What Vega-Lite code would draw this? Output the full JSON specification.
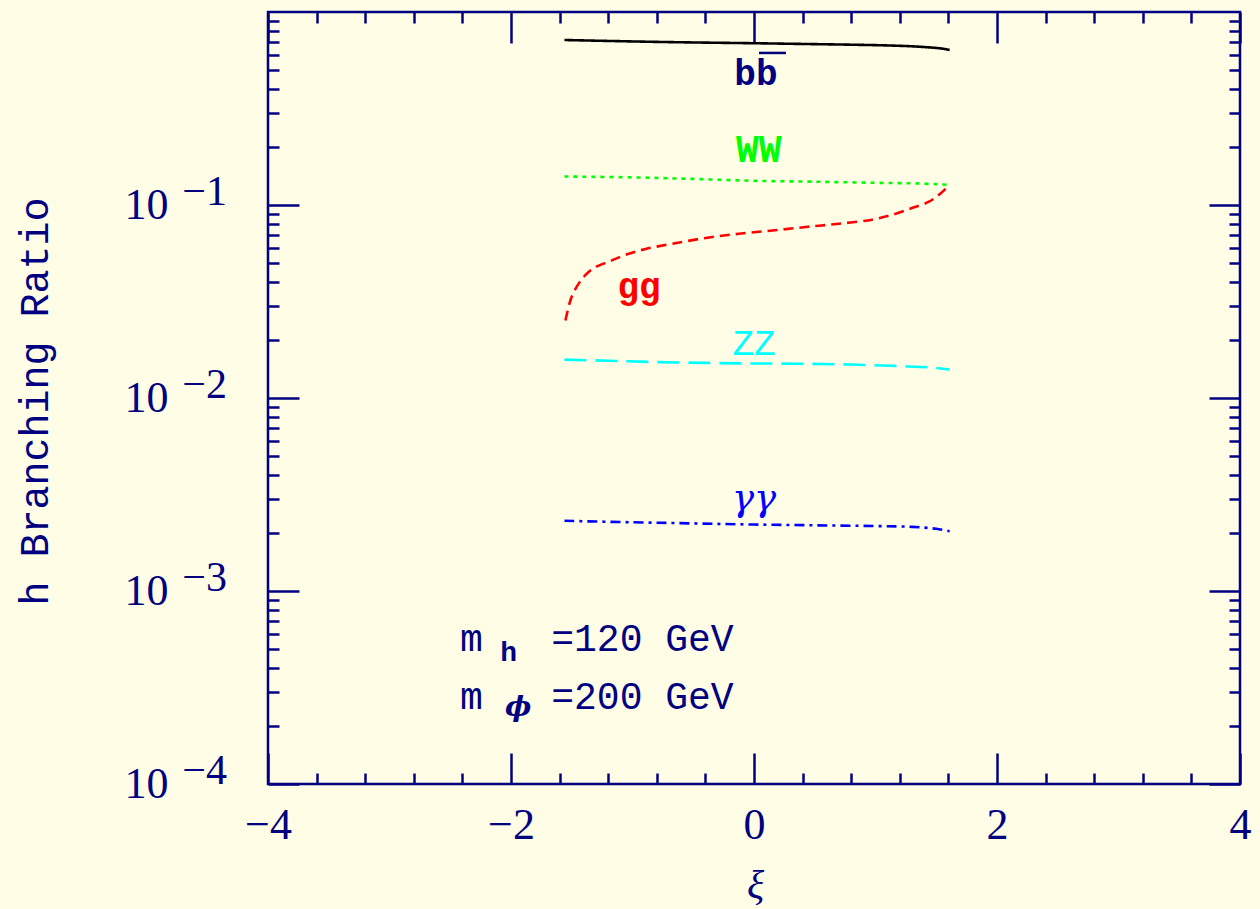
{
  "$schema": "https://vega.github.io/schema/vega-lite/v6.json",
  "width": 972,
  "height": 772,
  "autosize": {"type": "none"},
  "padding": {"left": 268, "top": 12, "right": 20, "bottom": 125},
  "background": "#fffde6",
  "config": {
    "view": {"stroke": "#000080", "strokeWidth": 2.5, "fill": null},
    "axis": {
      "domain": false, "grid": false, "tickColor": "#000080", "tickWidth": 2.5,
      "labelColor": "#000080", "titleColor": "#000080",
      "labelFont": "Liberation Serif", "titleFont": "Liberation Serif",
      "titleFontWeight": "normal", "labelFlush": false, "labelOverlap": false, "labelBound": false
    }
  },
  "resolve": {"axis": {"x": "independent", "y": "independent"}},
  "datasets": {
    "curves": [
      {"s": "bb", "xi": -1.56, "br": 0.716}, {"s": "bb", "xi": -1.2, "br": 0.708}, {"s": "bb", "xi": -0.8, "br": 0.700},
      {"s": "bb", "xi": -0.4, "br": 0.694}, {"s": "bb", "xi": 0, "br": 0.689}, {"s": "bb", "xi": 0.4, "br": 0.683},
      {"s": "bb", "xi": 0.8, "br": 0.677}, {"s": "bb", "xi": 1.1, "br": 0.671}, {"s": "bb", "xi": 1.3, "br": 0.664},
      {"s": "bb", "xi": 1.45, "br": 0.655}, {"s": "bb", "xi": 1.55, "br": 0.646}, {"s": "bb", "xi": 1.61, "br": 0.636},
      {"s": "WW", "xi": -1.56, "br": 0.1405}, {"s": "WW", "xi": -1, "br": 0.139}, {"s": "WW", "xi": -0.5, "br": 0.1365},
      {"s": "WW", "xi": 0, "br": 0.1335}, {"s": "WW", "xi": 0.5, "br": 0.132}, {"s": "WW", "xi": 1, "br": 0.1303},
      {"s": "WW", "xi": 1.3, "br": 0.1295}, {"s": "WW", "xi": 1.5, "br": 0.1282}, {"s": "WW", "xi": 1.61, "br": 0.127},
      {"s": "gg", "xi": -1.552, "br": 0.0252}, {"s": "gg", "xi": -1.521, "br": 0.0305}, {"s": "gg", "xi": -1.494, "br": 0.0343},
      {"s": "gg", "xi": -1.439, "br": 0.0395}, {"s": "gg", "xi": -1.384, "br": 0.0436}, {"s": "gg", "xi": -1.316, "br": 0.0472},
      {"s": "gg", "xi": -1.192, "br": 0.0510}, {"s": "gg", "xi": -1.055, "br": 0.0553}, {"s": "gg", "xi": -0.891, "br": 0.0592},
      {"s": "gg", "xi": -0.672, "br": 0.0630}, {"s": "gg", "xi": -0.397, "br": 0.0675}, {"s": "gg", "xi": -0.123, "br": 0.0710},
      {"s": "gg", "xi": 0.152, "br": 0.0738}, {"s": "gg", "xi": 0.426, "br": 0.0769}, {"s": "gg", "xi": 0.699, "br": 0.0800},
      {"s": "gg", "xi": 0.973, "br": 0.0839}, {"s": "gg", "xi": 1.15, "br": 0.0895}, {"s": "gg", "xi": 1.3, "br": 0.0965},
      {"s": "gg", "xi": 1.44, "br": 0.104}, {"s": "gg", "xi": 1.53, "br": 0.114}, {"s": "gg", "xi": 1.61, "br": 0.127},
      {"s": "ZZ", "xi": -1.56, "br": 0.0158}, {"s": "ZZ", "xi": -1.2, "br": 0.0156}, {"s": "ZZ", "xi": -0.8, "br": 0.01535},
      {"s": "ZZ", "xi": -0.4, "br": 0.0152}, {"s": "ZZ", "xi": 0, "br": 0.0151}, {"s": "ZZ", "xi": 0.4, "br": 0.01505},
      {"s": "ZZ", "xi": 0.8, "br": 0.0149}, {"s": "ZZ", "xi": 1.2, "br": 0.01462}, {"s": "ZZ", "xi": 1.45, "br": 0.0144},
      {"s": "ZZ", "xi": 1.61, "br": 0.01405},
      {"s": "aa", "xi": -1.56, "br": 0.00231}, {"s": "aa", "xi": -1, "br": 0.00227}, {"s": "aa", "xi": -0.5, "br": 0.00224},
      {"s": "aa", "xi": 0, "br": 0.00221}, {"s": "aa", "xi": 0.5, "br": 0.00219}, {"s": "aa", "xi": 1, "br": 0.00217},
      {"s": "aa", "xi": 1.3, "br": 0.00215}, {"s": "aa", "xi": 1.5, "br": 0.0021}, {"s": "aa", "xi": 1.61, "br": 0.00204}
    ]
  },
  "layer": [
    {
      "data": {"name": "curves"},
      "mark": {"type": "line", "strokeWidth": 2.6, "interpolate": "catmull-rom"},
      "encoding": {
        "x": {"field": "xi", "type": "quantitative", "scale": {"domain": [-4, 4], "nice": false, "zero": false},
          "axis": {"orient": "bottom", "values": [-4, -2, 0, 2, 4], "tickSize": -31, "labelPadding": 72, "labelFontSize": 44,
            "labelBaseline": "middle", "format": "d", "title": "ξ", "titleFontSize": 40, "titleFontStyle": "italic",
            "titleX": 487, "titleY": 113, "titleAlign": "center", "titleBaseline": "alphabetic"}},
        "y": {"field": "br", "type": "quantitative", "scale": {"type": "log", "domain": [0.0001, 1], "nice": false},
          "axis": {"orient": "left", "values": [0.0001, 0.001, 0.01, 0.1], "tickSize": -31, "labelPadding": 131, "labelFontSize": 44,
            "labelBaseline": "middle", "labelDy": 3, "labelExpr": "'10'", "labelAlign": "right",
            "title": "h Branching Ratio", "titleFont": "Liberation Mono", "titleFontSize": 40, "titleAngle": -90,
            "titleX": -221, "titleY": 389, "titleAlign": "center", "titleBaseline": "alphabetic"}},
        "color": {"field": "s", "type": "nominal", "legend": null,
          "scale": {"domain": ["bb", "WW", "gg", "ZZ", "aa"], "range": ["#000000", "#00ff00", "#ff0000", "#00ffff", "#0000ff"]}},
        "strokeDash": {"field": "s", "type": "nominal", "legend": null,
          "scale": {"domain": ["bb", "WW", "gg", "ZZ", "aa"], "range": [[1, 0], [4, 5], [10, 6], [22, 9], [10, 5, 3, 5]]}}
      }
    },
    {
      "data": {"values": [{"label": "bb", "xi": 0.016, "br": 0.419}]},
      "mark": {"type": "text", "font": "Liberation Mono", "fontWeight": "bold", "fontSize": 36, "color": "#000080", "align": "center", "baseline": "alphabetic"},
      "encoding": {
        "x": {"field": "xi", "type": "quantitative",
          "axis": {"orient": "bottom", "values": [-3.6, -3.2, -2.8, -2.4, -1.6, -1.2, -0.8, -0.4, 0.4, 0.8, 1.2, 1.6, 2.4, 2.8, 3.2, 3.6], "tickSize": -11, "labels": false, "title": null}},
        "y": {"field": "br", "type": "quantitative",
          "axis": {"orient": "left", "values": [0.0002, 0.0003, 0.0004, 0.0005, 0.0006, 0.0007, 0.0008, 0.0009, 0.002, 0.003, 0.004, 0.005, 0.006, 0.007, 0.008, 0.009, 0.02, 0.03, 0.04, 0.05, 0.06, 0.07, 0.08, 0.09, 0.2, 0.3, 0.4, 0.5, 0.6, 0.7, 0.8, 0.9], "tickSize": -11, "labels": false, "title": null}},
        "text": {"field": "label"}
      }
    },
    {
      "data": {"values": [{"label": "WW", "xi": 0.04, "br": 0.1674}]},
      "mark": {"type": "text", "font": "Liberation Mono", "fontWeight": "bold", "fontSize": 38, "color": "#00ff00", "align": "center", "baseline": "alphabetic"},
      "encoding": {
        "x": {"field": "xi", "type": "quantitative",
          "axis": {"orient": "top", "values": [-4, -2, 0, 2, 4], "tickSize": -31, "labels": false, "title": null}},
        "y": {"field": "br", "type": "quantitative",
          "axis": {"orient": "right", "values": [0.0001, 0.001, 0.01, 0.1], "tickSize": -31, "labels": false, "title": null}},
        "text": {"field": "label"}
      }
    },
    {
      "data": {"values": [{"label": "gg", "xi": -0.946, "br": 0.0331}]},
      "mark": {"type": "text", "font": "Liberation Mono", "fontWeight": "bold", "fontSize": 36, "color": "#ff0000", "align": "center", "baseline": "alphabetic"},
      "encoding": {
        "x": {"field": "xi", "type": "quantitative",
          "axis": {"orient": "top", "values": [-3.6, -3.2, -2.8, -2.4, -1.6, -1.2, -0.8, -0.4, 0.4, 0.8, 1.2, 1.6, 2.4, 2.8, 3.2, 3.6], "tickSize": -11, "labels": false, "title": null}},
        "y": {"field": "br", "type": "quantitative",
          "axis": {"orient": "right", "values": [0.0002, 0.0003, 0.0004, 0.0005, 0.0006, 0.0007, 0.0008, 0.0009, 0.002, 0.003, 0.004, 0.005, 0.006, 0.007, 0.008, 0.009, 0.02, 0.03, 0.04, 0.05, 0.06, 0.07, 0.08, 0.09, 0.2, 0.3, 0.4, 0.5, 0.6, 0.7, 0.8, 0.9], "tickSize": -11, "labels": false, "title": null}},
        "text": {"field": "label"}
      }
    },
    {
      "data": {"values": [{"label": "ZZ", "xi": 0, "br": 0.0168}]},
      "mark": {"type": "text", "font": "Liberation Mono", "fontSize": 36, "color": "#00ffff", "align": "center", "baseline": "alphabetic"},
      "encoding": {
        "x": {"field": "xi", "type": "quantitative", "axis": null},
        "y": {"field": "br", "type": "quantitative", "axis": null},
        "text": {"field": "label"}
      }
    },
    {
      "data": {"values": [{"label": "γγ", "xi": 0, "br": 0.00262}]},
      "mark": {"type": "text", "font": "DejaVu Serif", "fontStyle": "italic", "fontSize": 37, "color": "#0000ff", "align": "center", "baseline": "alphabetic"},
      "encoding": {
        "x": {"field": "xi", "type": "quantitative", "axis": null},
        "y": {"field": "br", "type": "quantitative", "axis": null},
        "text": {"field": "label"}
      }
    },
    {
      "data": {"values": [{"xi": 0.041, "xi2": 0.263, "br": 0.6136}]},
      "mark": {"type": "rule", "color": "#000080", "strokeWidth": 2.5},
      "encoding": {
        "x": {"field": "xi", "type": "quantitative", "axis": null},
        "x2": {"field": "xi2"},
        "y": {"field": "br", "type": "quantitative", "axis": null}
      }
    },
    {
      "data": {"values": [{"xi": -4, "br": 0.1, "e": "−1"}, {"xi": -4, "br": 0.01, "e": "−2"}, {"xi": -4, "br": 0.001, "e": "−3"}, {"xi": -4, "br": 0.0001, "e": "−4"}]},
      "mark": {"type": "text", "font": "Liberation Serif", "fontSize": 42, "color": "#000080", "align": "right", "baseline": "middle", "dx": -41, "dy": -13},
      "encoding": {
        "x": {"field": "xi", "type": "quantitative", "axis": null},
        "y": {"field": "br", "type": "quantitative", "axis": null},
        "text": {"field": "e"}
      }
    },
    {
      "data": {"values": [{"t": "m", "xi": -2.42, "br": 0.000488}, {"t": "=120 GeV", "xi": -1.669, "br": 0.000488}, {"t": "m", "xi": -2.42, "br": 0.0002443}, {"t": "=200 GeV", "xi": -1.669, "br": 0.0002443}]},
      "mark": {"type": "text", "font": "Liberation Mono", "fontSize": 38, "color": "#000080", "align": "left", "baseline": "alphabetic"},
      "encoding": {
        "x": {"field": "xi", "type": "quantitative", "axis": null},
        "y": {"field": "br", "type": "quantitative", "axis": null},
        "text": {"field": "t"}
      }
    },
    {
      "data": {"values": [{"t": "h", "xi": -2.089, "br": 0.000433}]},
      "mark": {"type": "text", "font": "Liberation Mono", "fontWeight": "bold", "fontSize": 28, "color": "#000080", "align": "left", "baseline": "alphabetic"},
      "encoding": {
        "x": {"field": "xi", "type": "quantitative", "axis": null},
        "y": {"field": "br", "type": "quantitative", "axis": null},
        "text": {"field": "t"}
      }
    },
    {
      "data": {"values": [{"t": "ϕ", "xi": -1.941, "br": 0.0002249}]},
      "mark": {"type": "text", "font": "DejaVu Serif", "fontWeight": "bold", "fontStyle": "italic", "fontSize": 28, "color": "#000080", "align": "center", "baseline": "alphabetic"},
      "encoding": {
        "x": {"field": "xi", "type": "quantitative", "axis": null},
        "y": {"field": "br", "type": "quantitative", "axis": null},
        "text": {"field": "t"}
      }
    }
  ]
}
